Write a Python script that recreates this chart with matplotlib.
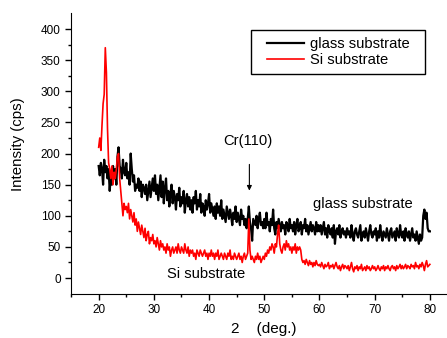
import matplotlib

matplotlib.use("Agg")

import matplotlib.pyplot as plt
import numpy as np
from matplotlib.patches import Rectangle

plt.rcParams["font.family"] = ["Liberation Sans", "DejaVu Sans"]

# 2theta grid, 0.2 deg steps from 20 to 80
two_theta = np.round(np.arange(20.0, 80.0001, 0.2), 1)

glass = [
    180, 165, 185, 175, 150, 190, 170, 180, 160, 175, 140, 165, 150, 180, 160, 175, 150, 195, 210, 180, 175, 160, 190, 170, 165,
    185, 160, 170, 150, 200, 175, 155, 165, 140, 150, 145, 160, 140, 155, 130, 150, 145, 135, 150, 125, 140, 155, 130, 145, 160,
    140, 165, 135, 150, 125, 145, 165, 130, 155, 120, 145, 160, 125, 140, 115, 135, 150, 120, 140, 130, 110, 135, 125, 145, 115,
    130, 120, 140, 105, 125, 135, 115, 130, 110, 125, 105, 130, 120, 140, 110, 125, 115, 135, 105, 120, 115, 100, 125, 110, 120,
    135, 105, 120, 110, 100, 115, 95, 120, 105, 115, 100, 125, 95, 110, 100, 90, 115, 105, 95, 110, 100, 85, 105, 95, 115,
    90, 105, 95, 85, 110, 95, 100, 85, 95, 80, 95, 115, 90, 80, 60, 95, 90, 85, 100, 80, 95, 105, 85, 90, 80,
    95, 80, 105, 85, 90, 75, 95, 85, 110, 80, 70, 90, 80, 95, 85, 75, 90, 80, 85, 70, 90, 85, 75, 95, 80,
    85, 75, 90, 70, 85, 95, 75, 80, 90, 70, 85, 80, 95, 75, 85, 70, 80, 90, 75, 85, 80, 70, 90, 75, 85,
    75, 85, 70, 80, 90, 70, 80, 65, 85, 75, 70, 80, 65, 85, 55, 75, 80, 70, 85, 65, 75, 80, 70, 75, 65,
    80, 70, 75, 65, 85, 70, 60, 75, 80, 70, 65, 75, 85, 60, 70, 75, 65, 80, 70, 60, 75, 85, 70, 65, 75,
    70, 80, 60, 75, 65, 85, 70, 60, 75, 70, 65, 80, 70, 60, 75, 80, 65, 70, 75, 60, 80, 70, 65, 85, 70,
    65, 75, 60, 80, 70, 65, 75, 60, 70, 80, 65, 70, 60, 75, 65, 55, 70, 60, 65, 100, 110, 95, 105, 80, 75,
    75,
]

si = [
    210, 225, 205, 245, 280, 295, 370, 330, 240, 185, 175, 160, 180, 150, 170, 160, 175, 195, 200, 160, 140, 120, 100, 120, 110,
    115, 105, 120, 95, 110, 100, 90, 105, 85, 95, 75, 90, 80, 70, 85, 75, 65, 80, 60, 70, 75, 55, 65, 60, 70,
    55, 60, 50, 65, 55, 45, 60, 50, 55, 45, 50, 40, 55, 45, 50, 35, 45, 50, 40, 45, 50, 40, 55, 45, 40,
    50, 45, 40, 55, 45, 40, 50, 35, 45, 40, 45, 35, 40, 30, 45, 40, 35, 45, 40, 35, 40, 45, 35, 40, 30,
    40, 35, 45, 35, 40, 30, 40, 35, 45, 30, 35, 40, 35, 30, 40, 35, 30, 40, 35, 45, 30, 35, 30, 40, 35,
    30, 35, 40, 30, 35, 25, 35, 40, 30, 35, 40, 95, 45, 30, 35, 30, 25, 35, 30, 40, 30, 35, 25, 30, 35,
    30, 40, 35, 45, 40, 50, 45, 55, 50, 40, 55, 50, 70, 85, 55, 45, 40, 50, 55, 45, 60, 50, 55, 45, 50,
    40, 50, 45, 55, 40, 50, 45, 50, 45, 30, 25, 28, 22, 30, 25, 20, 28, 22, 25, 18, 25, 20, 28, 22, 20,
    22, 18, 25, 20, 15, 22, 18, 20, 25, 15, 20, 18, 22, 15, 20, 25, 18, 15, 20, 12, 18, 22, 15, 20, 18,
    15, 20, 12, 18, 25, 15, 10, 18, 15, 20, 12, 18, 15, 22, 12, 15, 18, 12, 20, 15, 18, 12, 15, 20, 15,
    18, 12, 15, 20, 15, 12, 18, 15, 20, 12, 18, 15, 20, 15, 12, 18, 20, 15, 18, 12, 20, 15, 18, 22, 15,
    20, 15, 18, 22, 15, 20, 18, 15, 22, 18, 20, 15, 25, 18, 20, 15, 22, 18, 25, 20, 12, 22, 28, 18, 20,
    22,
]

x_ticks = [20, 30, 40, 50, 60, 70, 80]
y_ticks = [0, 50, 100, 150, 200, 250, 300, 350, 400]

fig = plt.figure(figsize=(4.47, 3.38), dpi=100)
ax = fig.add_axes([0.159, 0.130, 0.841, 0.8315])

ax.plot(two_theta, glass, color="black", linewidth=1.6, label="glass substrate")
ax.plot(two_theta, si, color="red", linewidth=1.2, label="Si substrate")

ax.set_xlim(15, 83.1)
ax.set_ylim(-25.7, 425.7)
ax.spines["top"].set_visible(False)
ax.spines["right"].set_visible(False)
ax.set_xticks(x_ticks)
ax.set_yticks(y_ticks)
ax.set_xticks(np.arange(15, 85, 10), minor=True)
ax.set_yticks(np.arange(25, 425, 50), minor=True)
ax.tick_params(labelsize=8.5, length=4, width=1)
ax.tick_params(which="minor", length=2.5, width=1)

ax.set_xlabel("2    (deg.)", fontsize=11)
ax.xaxis.set_label_coords(0.513, -0.098)
ax.set_ylabel("Intensity (cps)", fontsize=10.8)
ax.yaxis.set_label_coords(-0.122, 0.534)

ax.annotate("", xy=(47.3, 136), xytext=(47.3, 187),
            arrowprops=dict(arrowstyle="-|>", color="black", lw=0.8, mutation_scale=7))
ax.text(47.0, 220, "Cr(110)", fontsize=10.6, ha="center", va="center")
ax.text(58.8, 119, "glass substrate", fontsize=10.6, ha="left", va="center")
ax.text(32.3, 7, "Si substrate", fontsize=10.6, ha="left", va="center")

# legend frame drawn separately to get the wide side padding of the original
ax.add_patch(Rectangle((0.479, 0.783), 0.462, 0.157, transform=ax.transAxes,
                       facecolor="white", edgecolor="black", linewidth=1.0, zorder=4))
leg = ax.legend(loc="center left", bbox_to_anchor=(0.521, 0.861), borderaxespad=0,
                frameon=False, fontsize=10.6, handlelength=2.5, handletextpad=0.4,
                labelspacing=0.15, borderpad=0)
leg.set_zorder(5)

fig.savefig("out.png", dpi=100)
